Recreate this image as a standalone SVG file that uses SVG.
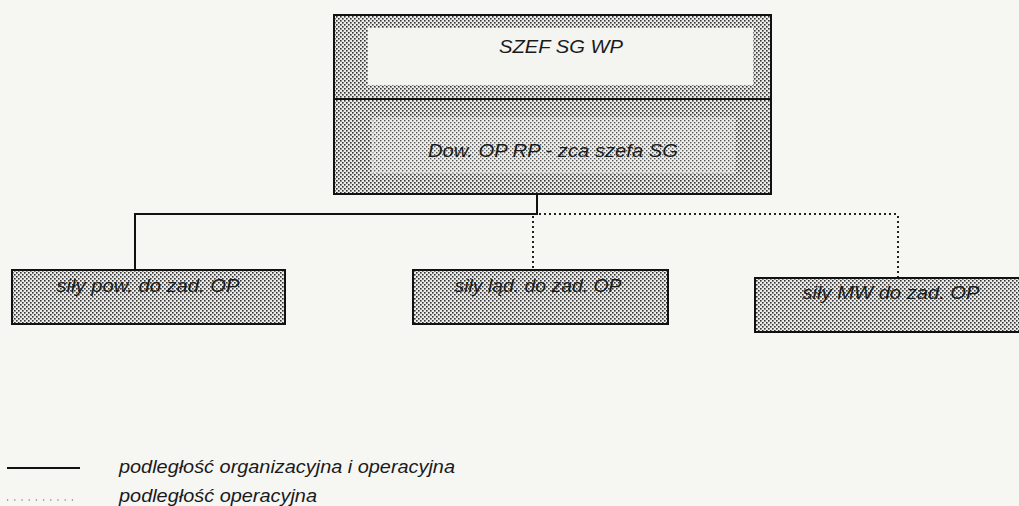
<svg xmlns="http://www.w3.org/2000/svg" width="1019" height="506" viewBox="0 0 1019 506">
  <defs>
    <pattern id="dots" width="4" height="4" patternUnits="userSpaceOnUse">
      <rect width="4" height="4" fill="#ebebe9"/>
      <rect x="0" y="0" width="1.6" height="1.6" fill="#333"/>
      <rect x="2" y="2" width="1.6" height="1.6" fill="#333"/>
    </pattern>
    <pattern id="dotsLight" width="4" height="4" patternUnits="userSpaceOnUse">
      <rect width="4" height="4" fill="#eeeeec"/>
      <rect x="0" y="0" width="1.4" height="1.4" fill="#555"/>
      <rect x="2" y="2" width="1.4" height="1.4" fill="#555"/>
    </pattern>
    <style>
      .box { fill: url(#dots); stroke: #111; stroke-width: 2; }
      .lbl { font-family: "Liberation Sans", Arial, sans-serif; font-style: italic; font-size: 18px; fill: #1a1a1a; }
      .solid { stroke: #111; stroke-width: 2; fill: none; }
      .dot { stroke: #222; stroke-width: 2; stroke-dasharray: 2 3; fill: none; }
    </style>
  </defs>
  <rect width="1019" height="506" fill="#f6f6f3"/>

  <g id="connectors">
    <polyline class="solid" points="537,194 537,214 135,214 135,270"/>
    <polyline class="dot" points="539,214 898,214"/>
    <polyline class="dot" points="533,216 533,270"/>
    <polyline class="dot" points="898,216 898,278"/>
  </g>

  <g id="szef">
    <rect class="box" x="334" y="15" width="437" height="84"/>
    <rect x="368" y="28" width="385" height="57" fill="#f4f4f1"/>
    <text class="lbl" x="561" y="53" text-anchor="middle" textLength="124" lengthAdjust="spacingAndGlyphs">SZEF SG WP</text>
  </g>

  <g id="dow">
    <rect class="box" x="334" y="99" width="437" height="95"/>
    <rect x="372" y="118" width="363" height="55" fill="url(#dotsLight)" stroke="#e6e6e4" stroke-width="1.2" stroke-dasharray="2 2"/>
    <text class="lbl" x="553" y="157" text-anchor="middle" textLength="250" lengthAdjust="spacingAndGlyphs">Dow. OP RP - zca szefa SG</text>
  </g>

  <g id="sily-pow">
    <rect class="box" x="12" y="270" width="273" height="54"/>
    <text class="lbl" x="148" y="292" text-anchor="middle" textLength="183" lengthAdjust="spacingAndGlyphs">siły pow. do zad. OP</text>
  </g>

  <g id="sily-lad">
    <rect class="box" x="413" y="270" width="255" height="54"/>
    <text class="lbl" x="538" y="292" text-anchor="middle" textLength="167" lengthAdjust="spacingAndGlyphs">siły ląd. do zad. OP</text>
  </g>

  <g id="sily-mw">
    <rect class="box" x="755" y="278" width="280" height="54"/>
    <text class="lbl" x="891" y="299" text-anchor="middle" textLength="177" lengthAdjust="spacingAndGlyphs">siły MW do zad. OP</text>
  </g>

  <g id="legend">
    <line class="solid" x1="7" y1="468" x2="80" y2="468" stroke-width="1.8"/>
    <line x1="7" y1="500" x2="77" y2="500" stroke="#555" stroke-width="1.2" stroke-dasharray="1.2 6"/>
    <text class="lbl" x="119" y="473" textLength="336" lengthAdjust="spacingAndGlyphs">podległość organizacyjna i operacyjna</text>
    <text class="lbl" x="119" y="502" textLength="198" lengthAdjust="spacingAndGlyphs">podległość operacyjna</text>
  </g>
</svg>
